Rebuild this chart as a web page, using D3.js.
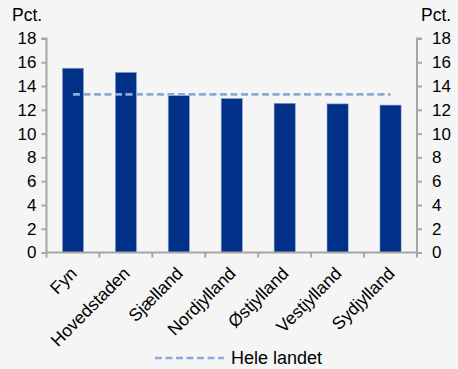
<!DOCTYPE html>
<html><head><meta charset="utf-8">
<script src="https://cdn.jsdelivr.net/npm/d3@7/dist/d3.min.js"></script>
<style>
html,body{margin:0;padding:0;background:#f5f5f5;}
svg{display:block;font-family:"Liberation Sans",Arial,sans-serif;}
</style></head><body>
<svg id="c" width="458" height="369"></svg>
<script>
const categories = ["Fyn","Hovedstaden","Sjælland","Nordjylland","Østjylland","Vestjylland","Sydjylland"];
const values = [15.5, 15.15, 13.2, 12.95, 12.55, 12.5, 12.4];
const national = [13.3, 13.3, 13.3, 13.3, 13.3, 13.3, 13.3];
const yTicks = [0,2,4,6,8,10,12,14,16,18];
const unitLabel = "Pct.";
const legendLabel = "Hele landet";

const svg = d3.select("#c");
svg.append("rect").attr("width",458).attr("height",369).attr("fill","#f5f5f5");
const L = 46.5, R = 417, T = 38.5, B = 252.5;
const x = d3.scaleBand().domain(categories).range([L,R]).paddingInner(0.6).paddingOuter(0.3);
const xb = d3.scaleBand().domain(categories).range([L,R]);
const y = d3.scaleLinear().domain([0,18]).range([B,T]);
const axisColor = "#a6a6a6";

// bars
svg.append("g").selectAll("rect").data(categories).join("rect")
  .attr("x", d=>x(d)).attr("width", x.bandwidth())
  .attr("y", (d,i)=>y(values[i])).attr("height",(d,i)=>y(0)-y(values[i]))
  .attr("fill","#003087").attr("stroke","#8fa6d0").attr("stroke-width",0.6);

// national line
const line = d3.line().x((d,i)=>xb(categories[i])+xb.bandwidth()/2).y(d=>y(d));
svg.append("path").datum(national).attr("d",line).attr("fill","none")
  .attr("stroke","#8eaadb").attr("stroke-width",2.6).attr("stroke-dasharray","7,3.5");

// y axes
const gl = svg.append("g").attr("transform",`translate(${L},0)`)
  .call(d3.axisLeft(y).tickValues(yTicks).tickSize(5).tickPadding(5));
const gr = svg.append("g").attr("transform",`translate(${R},0)`)
  .call(d3.axisRight(y).tickValues(yTicks).tickSize(5).tickPadding(10));
[gl,gr].forEach(g=>{
  g.selectAll("path,line").attr("stroke",axisColor).attr("stroke-width",2);
  g.selectAll("text").attr("font-size",17).attr("fill","#000").attr("font-family","Liberation Sans, Arial, sans-serif");
});
gl.select(".domain").attr("d",`M-5,${T}H0V${B}`);
gr.select(".domain").attr("d",`M5,${T}H0V${B}`);

// x axis
const gx = svg.append("g").attr("transform",`translate(0,${B})`);
gx.append("line").attr("x1",L).attr("x2",R).attr("stroke",axisColor).attr("stroke-width",2);
gx.selectAll("line.t").data(categories.concat(["end"])).join("line").attr("class","t")
  .attr("x1",(d,i)=>L+i*xb.bandwidth()).attr("x2",(d,i)=>L+i*xb.bandwidth())
  .attr("y1",0).attr("y2",5).attr("stroke",axisColor).attr("stroke-width",2);
gx.selectAll("text").data(categories).join("text")
  .attr("transform",d=>`translate(${xb(d)+xb.bandwidth()/2+5},${22}) rotate(-45)`)
  .attr("text-anchor","end").attr("font-size",17.5).attr("fill","#000").text(d=>d);

// unit labels
svg.append("text").attr("x",12).attr("y",21).attr("font-size",17.5).text(unitLabel);
svg.append("text").attr("x",421).attr("y",21).attr("font-size",17.5).text(unitLabel);

// legend
svg.append("line").attr("x1",155).attr("x2",224).attr("y1",358).attr("y2",358)
  .attr("stroke","#8eaadb").attr("stroke-width",2.6).attr("stroke-dasharray","7,3.5");
svg.append("text").attr("x",231).attr("y",364).attr("font-size",18).text(legendLabel);
</script></body></html>
